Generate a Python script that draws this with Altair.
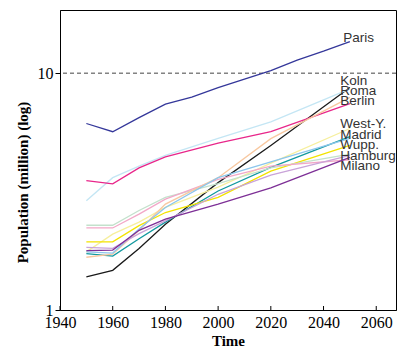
import altair as alt
import pandas as pd

# ---- data ----
paris_years = [1950, 1960, 1970, 1980, 1990, 2000, 2010, 2020, 2030, 2040, 2050]
paris_vals = [6.13, 5.66, 6.49, 7.40, 7.92, 8.68, 9.44, 10.25, 11.36, 12.39, 13.6]

years = [1950, 1960, 1970, 1980, 2000, 2020, 2050]
koln = [1.38, 1.47, 1.82, 2.30, 3.45, 4.95, 8.70]
roma = [2.89, 3.62, 4.05, 4.50, 5.31, 6.23, 8.58]
berlin = [3.52, 3.41, 3.98, 4.43, 5.06, 5.66, 7.43]
west_y = [1.76, 2.09, 2.35, 2.71, 3.30, 4.17, 5.84]
madrid = [1.73, 1.69, 2.00, 2.35, 3.18, 4.00, 5.40]
wupp = [1.94, 1.94, 2.27, 2.58, 2.99, 3.86, 4.95]
hamburg = [2.28, 2.28, 2.63, 2.99, 3.42, 3.98, 4.55]
milano = [2.22, 2.22, 2.54, 2.94, 3.56, 4.05, 4.31]
extra_a = [1.67, 1.72, 2.17, 2.80, 3.62, 5.29, 7.90]
extra_b = [1.76, 1.74, 2.20, 2.71, 3.62, 4.22, 5.31]
extra_c = [1.84, 1.82, 2.10, 2.38, 3.08, 3.71, 4.50]
extra_d = [1.78, 1.79, 2.17, 2.42, 2.80, 3.28, 4.41]

series = {
    "Paris": (paris_years, paris_vals, "#34379a"),
    "Koln": (years, koln, "#1a1a1a"),
    "Roma": (years, roma, "#c4e6f4"),
    "Berlin": (years, berlin, "#e8268a"),
    "West-Y.": (years, west_y, "#f6ef9e"),
    "Madrid": (years, madrid, "#12999f"),
    "Wupp.": (years, wupp, "#f3e300"),
    "Hamburg": (years, hamburg, "#c3e1cc"),
    "Milano": (years, milano, "#f2a8c8"),
    "A": (years, extra_a, "#f8c8a0"),
    "B": (years, extra_b, "#8cc6ec"),
    "C": (years, extra_c, "#c9a3d9"),
    "D": (years, extra_d, "#7d2f96"),
}

label_names = ["Paris", "Koln", "Roma", "Berlin", "West-Y.", "Madrid", "Wupp.", "Hamburg", "Milano"]
label_years = [2047.5, 2046.3, 2046.3, 2046.3, 2046.3, 2046.3, 2046.3, 2046.3, 2046.3]
label_pos = [14.06, 9.29, 8.39, 7.62, 6.09, 5.48, 4.98, 4.48, 4.07]

x_ticks = [1940, 1960, 1980, 2000, 2020, 2040, 2060]
y_ticks = [1, 10]
ref_level = [10]

rows = []
for name, (ys, vs, _c) in series.items():
    for y, v in zip(ys, vs):
        rows.append({"city": name, "year": y, "value": v})
df = pd.DataFrame(rows)
names = list(series.keys())
colors = [series[n][2] for n in names]

lab_df = pd.DataFrame({"name": label_names, "year": label_years, "pos": label_pos})

W, H = 336, 300
xscale = alt.Scale(domain=[1940, 2067.5], nice=False, zero=False)
yscale = alt.Scale(type="log", domain=[1, 18.48], nice=False)

lines = alt.Chart(df).mark_line(strokeWidth=1.3).encode(
    x=alt.X("year:Q", scale=xscale,
            axis=alt.Axis(values=x_ticks, format="d", title="Time", ticks=False,
                          labelFlush=False, labelPadding=4, titlePadding=3, grid=False)),
    y=alt.Y("value:Q", scale=yscale,
            axis=alt.Axis(values=y_ticks, format="d", title="Population (million) (log)",
                          tickSize=5, labelPadding=2, grid=False, labelFlush=False,
                          titleX=-38, titleY=172, titleBaseline="middle")),
    color=alt.Color("city:N", scale=alt.Scale(domain=names, range=colors), legend=None),
    detail="city:N",
)

ref = alt.Chart(pd.DataFrame({"v": ref_level})).mark_rule(
    strokeDash=[4, 3], color="#444", strokeWidth=1
).encode(y=alt.Y("v:Q", scale=yscale))

ticks = alt.Chart(pd.DataFrame({"t": x_ticks})).mark_rule(color="black", strokeWidth=1).encode(
    x=alt.X("t:Q", scale=xscale), y=alt.value(H), y2=alt.value(H - 4)
)

labels = alt.Chart(lab_df).mark_text(
    align="left", baseline="middle", font="Liberation Sans", fontSize=13.5, color="#333"
).encode(
    x=alt.X("year:Q", scale=xscale),
    y=alt.Y("pos:Q", scale=yscale),
    text="name:N",
)

chart = alt.layer(ref, lines, ticks, labels).properties(
    width=W, height=H,
    autosize=alt.AutoSizeParams(type="none"),
    padding={"left": 52, "top": 2, "right": 1, "bottom": 40},
    background="white",
).configure_view(
    stroke="black", strokeWidth=1
).configure_axis(
    domainColor="black", tickColor="black",
    labelFont="Liberation Serif", labelFontSize=16, labelColor="black",
    titleFont="Liberation Serif", titleFontSize=15, titleFontWeight="bold", titleColor="black",
).configure_axisX(titleFontSize=15)

chart.save("out.html", embed_options={"renderer": "svg", "actions": False})
